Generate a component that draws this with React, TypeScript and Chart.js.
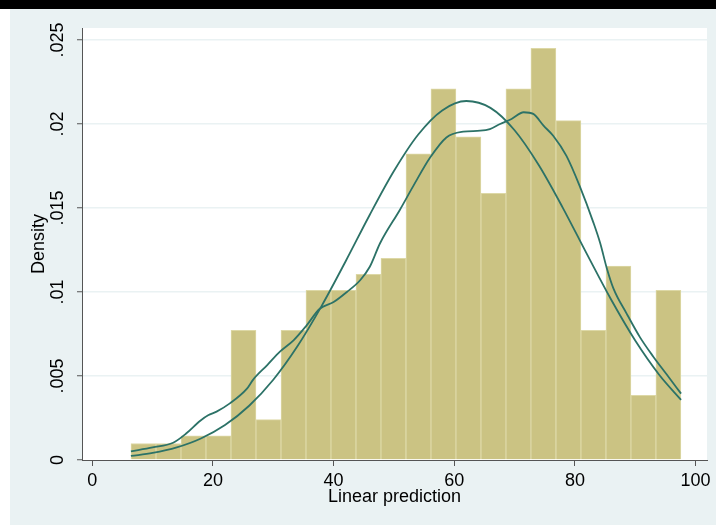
import React, { useEffect, useRef } from "react";
import { Chart, registerables } from "chart.js";

Chart.register(...registerables);

// ---- Data ----
// Histogram bin centres (Linear prediction) and bar densities
const binCenters = [8.48, 12.63, 16.77, 20.91, 25.06, 29.2, 33.35, 37.49, 41.63, 45.78, 49.92, 54.07, 58.21, 62.35, 66.5, 70.64, 74.78, 78.93, 83.07, 87.22, 91.36, 95.5];
const binDensity = [0.00098, 0.00098, 0.00144, 0.00144, 0.00772, 0.0024, 0.00772, 0.0101, 0.0101, 0.01105, 0.012, 0.01823, 0.0221, 0.01923, 0.01587, 0.0221, 0.0245, 0.0202, 0.00772, 0.01155, 0.00385, 0.0101];

// Kernel density curve
const kernelX = [6.4, 10, 13.4, 15.6, 17.9, 19.2, 20.6, 22.8, 25.6, 26.7, 29, 31.1, 33.4, 35.5, 37.7, 40, 42.2, 44.4, 46, 47.7, 51, 53.2, 56, 58.7, 61.5, 64.3, 65.9, 67.6, 69.5, 71.5, 73.1, 74.8, 76.4, 78.6, 80.8, 83.1, 84.2, 85.3, 86.4, 88.6, 90.8, 93, 95.2, 97.6];
const kernelY = [0.00052, 0.00075, 0.00103, 0.00159, 0.00234, 0.00266, 0.00288, 0.00337, 0.00423, 0.0048, 0.00565, 0.00645, 0.00714, 0.008, 0.009, 0.0094, 0.01, 0.0107, 0.0115, 0.0129, 0.0149, 0.0163, 0.018, 0.0192, 0.01954, 0.0196, 0.0197, 0.02, 0.0203, 0.0207, 0.0206, 0.0199, 0.0193, 0.0181, 0.0163, 0.0141, 0.0129, 0.0114, 0.0102, 0.0087, 0.0073, 0.00615, 0.0051, 0.00395];

// Normal density curve
const normalX = [6.4, 10, 14, 18, 22, 26, 30, 34, 38, 42, 46, 50, 54, 58, 62, 66, 70, 74, 78, 82, 86, 90, 94, 97.6];
const normalY = [0.00024, 0.00042, 0.00075, 0.00128, 0.00208, 0.00323, 0.00478, 0.00677, 0.00916, 0.01183, 0.0146, 0.0172, 0.01936, 0.02081, 0.02137, 0.02096, 0.01963, 0.01756, 0.01501, 0.01225, 0.00955, 0.00711, 0.00506, 0.00358];

const xTicks = [0, 20, 40, 60, 80, 100];
const xTickLabels = ["0", "20", "40", "60", "80", "100"];
const yTicks = [0, 0.005, 0.01, 0.015, 0.02, 0.025];
const yTickLabels = ["0", ".005", ".01", ".015", ".02", ".025"];
const xTitle = "Linear prediction";
const yTitle = "Density";

// ---- Styling ----
const FONT = "'Liberation Sans', Arial, Helvetica, sans-serif";
const BG = "#eaf2f3";
const BAR_FILL = "#cbc383";
const BAR_EDGE = "#ddd8a6";
const LINE = "#2c7267";
const AXIS = "#555555";

const backgroundPlugin = {
  id: "stataBackground",
  beforeDraw(chart: any) {
    const { ctx, width, height, chartArea } = chart;
    ctx.save();
    ctx.fillStyle = "#ffffff";
    ctx.fillRect(0, 0, width, height);
    ctx.fillStyle = BG;
    ctx.fillRect(10, 9, width - 10, height - 9);
    ctx.fillStyle = "#000000";
    ctx.fillRect(0, 0, width, 9);
    ctx.fillStyle = "#ffffff";
    ctx.fillRect(chartArea.left, chartArea.top, chartArea.right - chartArea.left, chartArea.bottom - chartArea.top);
    ctx.restore();
  },
};

export default function App() {
  const ref = useRef<HTMLCanvasElement>(null);

  useEffect(() => {
    const canvas = ref.current;
    if (!canvas) return;
    const chart = new Chart(canvas, {
      type: "bar",
      data: {
        datasets: [
          {
            type: "line",
            label: "Kernel density",
            data: kernelX.map((x, i) => ({ x, y: kernelY[i] })),
            borderColor: LINE,
            borderWidth: 1.8,
            pointRadius: 0,
            cubicInterpolationMode: "monotone",
            fill: false,
            order: 0,
          },
          {
            type: "line",
            label: "Normal density",
            data: normalX.map((x, i) => ({ x, y: normalY[i] })),
            borderColor: LINE,
            borderWidth: 1.8,
            pointRadius: 0,
            cubicInterpolationMode: "monotone",
            fill: false,
            order: 1,
          },
          {
            type: "bar",
            label: "Histogram",
            data: binCenters.map((x, i) => ({ x, y: binDensity[i] })),
            backgroundColor: BAR_FILL,
            borderColor: BAR_EDGE,
            borderWidth: 1,
            barPercentage: 1,
            categoryPercentage: 1,
            order: 2,
          },
        ] as any,
      },
      options: {
        responsive: false,
        animation: false,
        devicePixelRatio: 1,
        layout: { padding: { left: 0, top: 28, right: 9, bottom: 0 } },
        plugins: { legend: { display: false }, tooltip: { enabled: false } },
        scales: {
          x: {
            type: "linear",
            min: -1.71,
            max: 101.9,
            offset: false,
            afterBuildTicks: (s: any) => {
              s.ticks = xTicks.map((v) => ({ value: v }));
            },
            afterFit: (s: any) => {
              s.height = 65;
            },
            ticks: {
              callback: (v: any) => xTickLabels[xTicks.indexOf(Number(v))] ?? "",
              font: { family: FONT, size: 18 },
              color: "#000",
              padding: 4,
              minRotation: 0,
              maxRotation: 0,
              autoSkip: false,
            },
            grid: {
              display: true,
              drawOnChartArea: false,
              drawTicks: true,
              tickLength: 6,
              tickColor: AXIS,
              tickWidth: 1,
              offset: false,
              color: AXIS,
            },
            border: { display: true, color: AXIS, width: 1 },
            title: {
              display: true,
              text: xTitle,
              color: "#000",
              font: { family: FONT, size: 18 },
              padding: { top: 0, bottom: 17 },
            },
          },
          y: {
            type: "linear",
            min: 0,
            max: 0.025714,
            afterBuildTicks: (s: any) => {
              s.ticks = yTicks.map((v) => ({ value: v }));
            },
            afterFit: (s: any) => {
              s.width = 82;
            },
            ticks: {
              callback: (v: any) => {
                const i = yTicks.findIndex((t) => Math.abs(t - Number(v)) < 1e-9);
                return i >= 0 ? yTickLabels[i] : "";
              },
              font: { family: FONT, size: 18 },
              color: "#000",
              padding: 1.5,
              minRotation: 90,
              maxRotation: 90,
              crossAlign: "center",
              autoSkip: false,
            },
            grid: {
              display: true,
              drawOnChartArea: true,
              drawTicks: true,
              tickLength: 5,
              tickColor: AXIS,
              tickWidth: 1,
              lineWidth: 1.5,
              color: (ctx: any) => (ctx.tick && ctx.tick.value === 0 ? "rgba(0,0,0,0)" : BG),
            },
            border: { display: true, color: AXIS, width: 1 },
            title: {
              display: true,
              text: yTitle,
              color: "#000",
              font: { family: FONT, size: 18 },
              padding: { top: 28, bottom: 0 },
            },
          },
        },
      } as any,
      plugins: [backgroundPlugin],
    });
    return () => chart.destroy();
  }, []);

  return (
    <div style={{ position: "fixed", left: 0, top: 0, width: 716, height: 525 }}>
      <canvas ref={ref} width={716} height={525} style={{ display: "block", width: 716, height: 525 }} />
    </div>
  );
}
